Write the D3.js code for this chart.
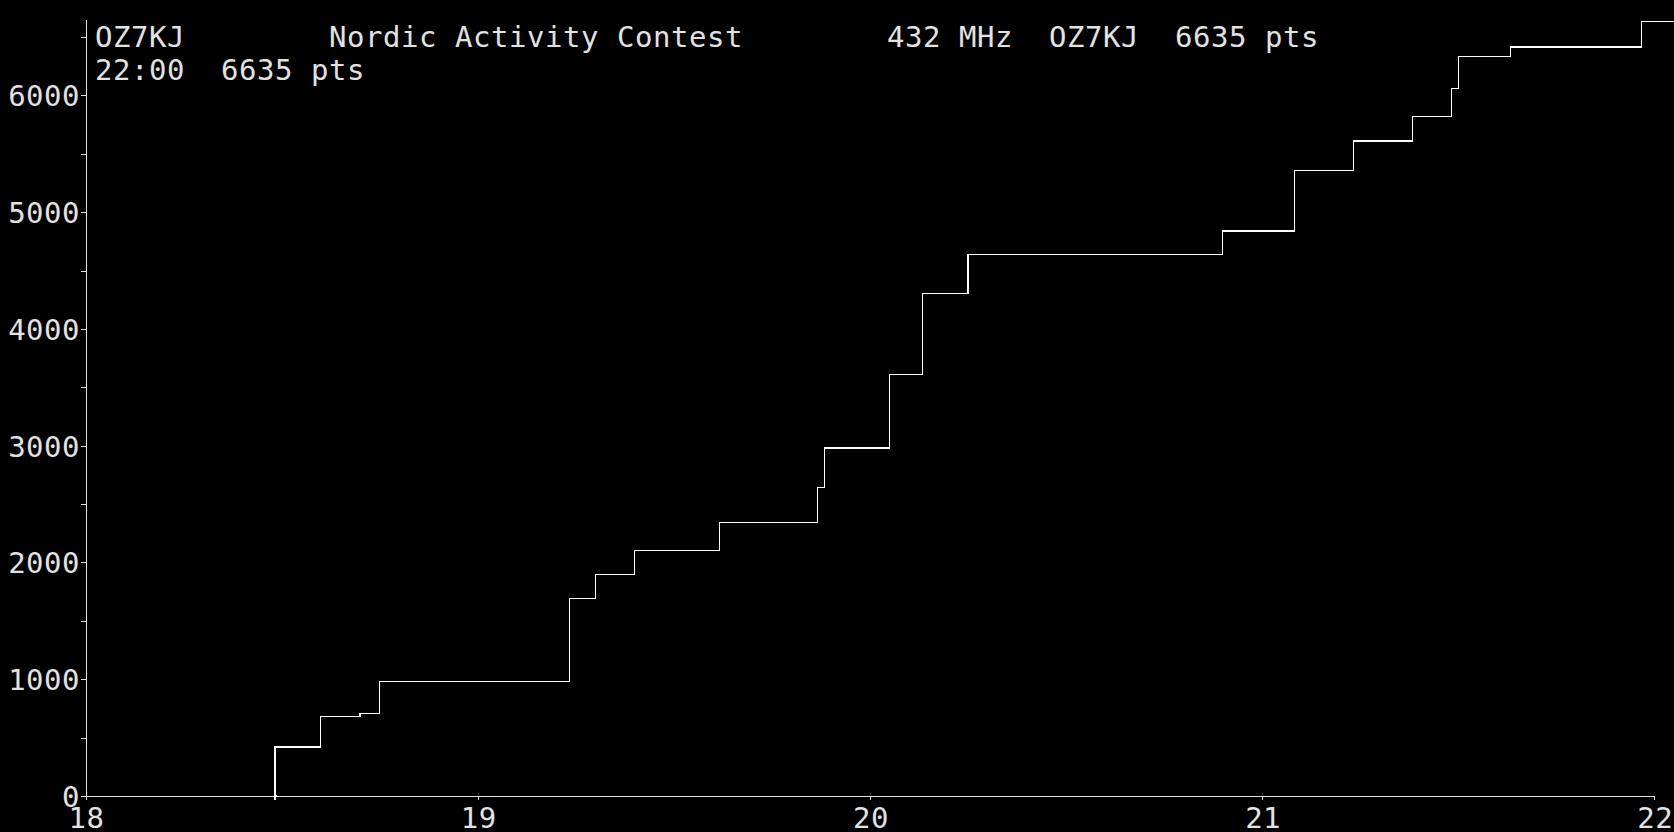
<!DOCTYPE html>
<html>
<head>
<meta charset="utf-8">
<script src="https://cdn.jsdelivr.net/npm/d3@7"></script>
<style>
  html, body { margin: 0; padding: 0; background: #000; overflow: hidden; }
  svg { display: block; }
  text { font-family: "DejaVu Sans Mono", "Liberation Mono", monospace; white-space: pre; }
</style>
</head>
<body>
<svg id="chart" width="1674" height="832"></svg>
<script>
// ---- data ----
const titleLine1 = "OZ7KJ        Nordic Activity Contest        432 MHz  OZ7KJ  6635 pts";
const titleLine2 = "22:00  6635 pts";
// QSO times (HH:MM) and cumulative score after each
const qsoTimes  = ["18:29","18:36","18:42","18:45","19:14","19:18","19:24","19:37","19:52","19:53",
                   "20:03","20:08","20:15","20:54","21:05","21:14","21:23","21:29","21:30","21:38","21:58"];
const qsoScores = [420, 680, 710, 980, 1690, 1900, 2100, 2345, 2645, 2980,
                   3610, 4305, 4640, 4840, 5360, 5610, 5820, 6060, 6335, 6415, 6635];
const lineEnd   = "22:03";            // trace continues to the right edge
const xTicks    = [18, 19, 20, 21, 22];
const yTicks    = [0,500,1000,1500,2000,2500,3000,3500,4000,4500,5000,5500,6000,6500];
const yLabelled = [0,1000,2000,3000,4000,5000,6000];
const yMax      = 6650;

// ---- layout ----
const svg = d3.select("#chart");
const X0 = 85.5, X1 = 1654.3, Y0 = 796, Y1 = 19.6;
const textColor = "#e2e2e2", lineColor = "#ffffff";

const toHours = s => { const [h, m] = s.split(":").map(Number); return h + m / 60; };
const x = d3.scaleLinear().domain([18, 22]).range([X0, X1]);
const y = d3.scaleLinear().domain([0, yMax]).range([Y0, Y1]);

svg.append("rect").attr("width", 1674).attr("height", 832).attr("fill", "#000");

// y axis
const gy = svg.append("g").attr("transform", `translate(${X0},0)`)
  .call(d3.axisLeft(y).tickValues(yTicks).tickSize(4.5).tickSizeOuter(0).tickFormat(""));
gy.selectAll("path, line").attr("stroke", textColor).attr("stroke-width", 1).attr("shape-rendering", "crispEdges");
svg.append("g").selectAll("text").data(yLabelled).join("text")
  .attr("x", 80).attr("y", d => y(d) + 11)
  .attr("text-anchor", "end").attr("font-size", 29).attr("letter-spacing", 0.5)
  .attr("fill", textColor).text(d => d);

// x axis
const gx = svg.append("g").attr("transform", `translate(0,${Y0})`)
  .call(d3.axisBottom(x).tickValues(xTicks).tickSize(3.5).tickSizeOuter(0).tickFormat(""));
gx.selectAll("path, line").attr("stroke", textColor).attr("stroke-width", 1).attr("shape-rendering", "crispEdges");
svg.append("g").selectAll("text").data(xTicks).join("text")
  .attr("x", d => x(d) + 1).attr("y", 828)
  .attr("text-anchor", "middle").attr("font-size", 29).attr("letter-spacing", 0.5)
  .attr("fill", textColor).text(d => d);

// score trace (step line)
const pts = [{ t: toHours(qsoTimes[0]), v: 0 }]
  .concat(qsoTimes.map((t, i) => ({ t: toHours(t), v: qsoScores[i] })))
  .concat([{ t: toHours(lineEnd), v: qsoScores[qsoScores.length - 1] }]);
const line = d3.line().x(d => x(d.t)).y(d => y(d.v)).curve(d3.curveStepAfter);
svg.append("path").datum(pts).attr("d", line)
  .attr("fill", "none").attr("stroke", lineColor).attr("stroke-width", 1.2)
  .attr("shape-rendering", "crispEdges");

// start marker
const sx = x(toHours(qsoTimes[0])), sy = y(0);
svg.append("path").attr("d", `M${sx - 1.5},${sy}H${sx + 1.5}M${sx},${sy - 1.5}V${sy + 4}`)
  .attr("stroke", lineColor).attr("stroke-width", 1.2).attr("shape-rendering", "crispEdges");

// header text
svg.append("text").attr("x", 95).attr("y", 47).attr("xml:space", "preserve")
  .attr("font-size", 29).attr("letter-spacing", 0.54).attr("fill", textColor).text(titleLine1);
svg.append("text").attr("x", 95).attr("y", 80).attr("xml:space", "preserve")
  .attr("font-size", 29).attr("letter-spacing", 0.54).attr("fill", textColor).text(titleLine2);
</script>
</body>
</html>
